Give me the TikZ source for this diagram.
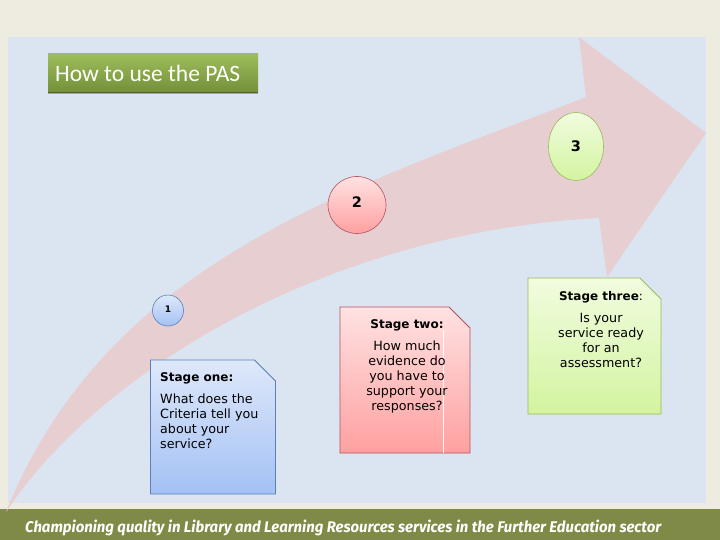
\documentclass[tikz,border=0pt]{standalone}
\usepackage{fontspec}
\setmainfont{DejaVu Sans}
\newfontfamily\titlefont{Carlito}
\newfontfamily\footfont{Fira Sans}
\usetikzlibrary{shapes.geometric}
\definecolor{bgbeige}{RGB}{238,236,225}
\definecolor{panelblue}{RGB}{219,229,241}
\definecolor{arrowpink}{RGB}{231,206,209}
\definecolor{footolive}{RGB}{126,138,69}
\definecolor{titletop}{RGB}{157,189,90}
\definecolor{titlebot}{RGB}{116,144,58}
\definecolor{titleline}{RGB}{79,98,40}
\definecolor{bluetop}{RGB}{222,232,250}
\definecolor{bluebot}{RGB}{164,193,244}
\definecolor{blueline}{RGB}{92,127,184}
\definecolor{pinktop}{RGB}{255,226,226}
\definecolor{pinkbot}{RGB}{255,160,160}
\definecolor{pinkline}{RGB}{178,80,94}
\definecolor{greentop}{RGB}{241,252,223}
\definecolor{greenbot}{RGB}{211,244,160}
\definecolor{greenline}{RGB}{155,184,90}
\begin{document}
\begin{tikzpicture}[x=1pt,y=-1pt,
  stagecircle/.style={ellipse, draw, inner sep=0pt, line width=0.6pt, font=\bfseries},
  stagebox/.style={line width=0.8pt},
  stagehead/.style={inner sep=0pt, font=\fontsize{12}{15}\selectfont\bfseries},
  stagetext/.style={inner sep=0pt, font=\fontsize{12.7}{15}\selectfont}]
\useasboundingbox (0,0) rectangle (720,540);
% background
\fill[bgbeige] (0,0) rectangle (720,540);
\fill[panelblue] (8,37) rectangle (706,503);
\fill[footolive] (0,509) rectangle (720,540);
% big curved arrow
\fill[arrowpink] (6,512) .. controls (108,258) and (356,187) .. (586,97)
  -- (579,37) -- (706,133) -- (607,277) -- (599,218)
  .. controls (330,232) and (100,370) .. (6,512) -- cycle;
% title
\path[top color=titletop, bottom color=titlebot] (48,54) rectangle (258,92);
\fill[gray!70] (48,92) rectangle (258,94);
\draw[titleline, line width=0.8pt] (48,92) -- (258,92);
\node[anchor=west, inner sep=0pt, text=white, font=\titlefont\fontsize{23.5}{26}\selectfont] (title) at (55,73.5) {How to use the PAS};
% circles
\node[stagecircle, draw=blueline, top color=bluetop, bottom color=bluebot,
  minimum width=31pt, minimum height=31pt, font=\bfseries\fontsize{9}{10}\selectfont] (c1) at (168,310.5) {\raisebox{2.5pt}{1}};
\node[stagecircle, draw=pinkline, top color=pinktop, bottom color=pinkbot,
  minimum width=58pt, minimum height=57pt, font=\bfseries\fontsize{14.5}{16}\selectfont] (c2) at (357,205) {\raisebox{6pt}{2}};
\node[stagecircle, draw=greenline, top color=greentop, bottom color=greenbot,
  minimum width=55pt, minimum height=68pt, font=\bfseries\fontsize{14.5}{16}\selectfont] (c3) at (576,146.5) {3};
% stage one box
\path[stagebox, draw=blueline, top color=bluetop, bottom color=bluebot]
  (150.5,360) -- (254.5,360) -- (275.5,381) -- (275.5,494) -- (150.5,494) -- cycle;
\node[stagehead, anchor=west] (h1) at (160,378.5) {Stage one:};
\node[stagetext, anchor=west, align=left] (t1) at (160,421.5) {What does the\\Criteria tell you\\about your\\service?};
% stage two box
\path[stagebox, draw=pinkline, top color=pinktop, bottom color=pinkbot]
  (340,307) -- (449,307) -- (470,328) -- (470,453) -- (340,453) -- cycle;
\draw[white, line width=0.8pt] (443,330) -- (443,452.5);
\node[stagehead] (h2) at (407,325.5) {Stage two:};
\node[stagetext, align=center] (t2) at (407,376.5) {How much\\evidence do\\you have to\\support your\\responses?};
% stage three box
\path[stagebox, draw=greenline, top color=greentop, bottom color=greenbot]
  (528,278) -- (640,278) -- (661,299) -- (661,414) -- (528,414) -- cycle;
\node[stagehead] (h3) at (601,297.5) {Stage three\mdseries:};
\node[stagetext, align=center] (t3) at (601,340.5) {Is your\\service ready\\for an\\assessment?};
% footer
\node[anchor=base west, inner sep=0pt, text=white] (foot) at (25,532)
  {\resizebox{636pt}{12.5pt}{\footfont\bfseries\itshape Championing quality in Library and Learning Resources services in the Further Education sector}};
\end{tikzpicture}
\end{document}
